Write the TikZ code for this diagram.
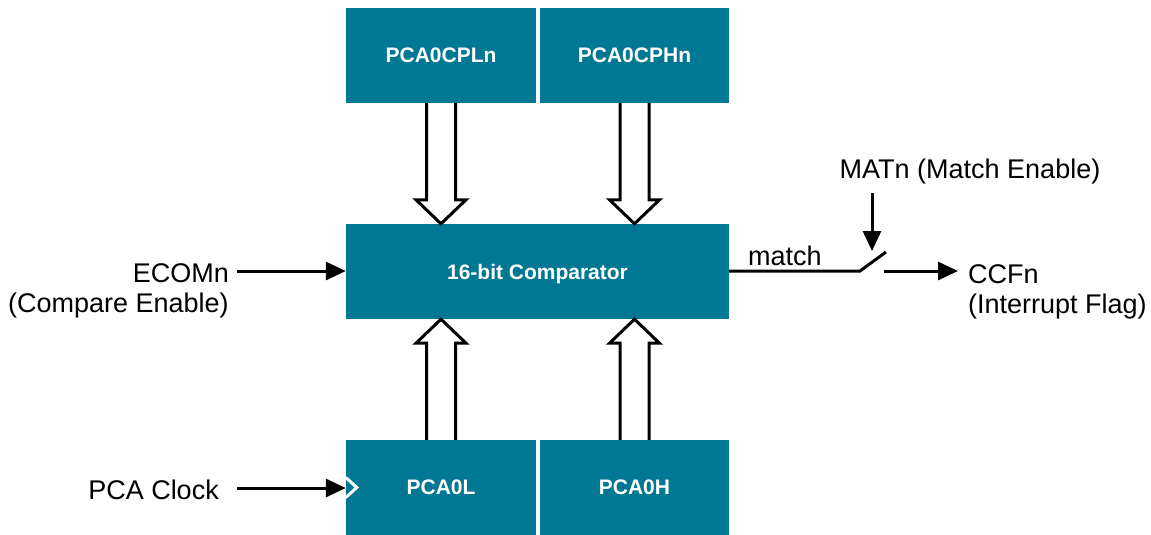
\documentclass[tikz,border=0pt]{standalone}
\usepackage{fontspec}
\setmainfont{Liberation Sans}
\usetikzlibrary{arrows.meta,calc}
\definecolor{teal}{RGB}{0,120,148}
\tikzset{
  regbox/.style={fill=teal, draw=none, minimum width=190pt, minimum height=95pt, inner sep=0pt,
    text=white, font=\fontsize{21}{24}\selectfont\bfseries, text depth=0pt},
  lbl/.style={inner sep=0pt, font=\fontsize{27}{32}\selectfont},
  sig/.style={line width=3pt, -{Triangle[length=20pt,width=18pt]}},
  wire/.style={line width=3pt},
  blk/.style={line width=3pt, line join=miter, fill=white},
}
\newcommand\blkarrow[2]{%
  \draw[blk] let \p1=#1, \p2=#2, \n1={sign(\y2-\y1)} in
    (\x1-14.5pt,\y1) -- (\x1-14.5pt,\y2-24pt*\n1) -- (\x1-25pt,\y2-24pt*\n1) -- (\x1,\y2)
    -- (\x1+25pt,\y2-24pt*\n1) -- (\x1+14.5pt,\y2-24pt*\n1) -- (\x1+14.5pt,\y1);}
\begin{document}
\begin{tikzpicture}[x=1pt,y=-1pt]
\useasboundingbox (0,0) rectangle (1151,535);
% registers
\node[regbox] (cpl) at (441,55.5) {PCA0CPLn};
\node[regbox, minimum width=189pt] (cph) at (634.5,55.5) {PCA0CPHn};
\node[regbox, minimum width=383pt] (cmp) at (537.5,271.5) {16-bit Comparator};
\node[regbox] (pl) at (441,487.5) {PCA0L};
\node[regbox, minimum width=189pt] (ph) at (634.5,487.5) {PCA0H};
% block arrows
\blkarrow{(cpl.south)}{(cpl.south |- cmp.north)}
\blkarrow{(cph.south)}{(cph.south |- cmp.north)}
\blkarrow{(pl.north)}{(pl.north |- cmp.south)}
\blkarrow{(ph.north)}{(ph.north |- cmp.south)}
% clock marker
\draw[white, line width=3pt, line join=miter] ($(pl.west)+(0,-10)$) -- ($(pl.west)+(11,0)$) -- ($(pl.west)+(0,10)$);
% left inputs
\node[lbl, anchor=east] (ecom) at (229,273) {ECOMn};
\node[lbl, anchor=east] (ecom2) at (229,306) {(Compare Enable)};
\draw[sig] (ecom.east) ++(8,-2) coordinate (ecs) -- (ecs -| cmp.west);
\node[lbl, anchor=east] (clk) at (219,490) {PCA Clock};
\draw[sig] (clk.east) ++(18,-2) coordinate (cks) -- (cks -| pl.west);
% match output and switch
\node[lbl, anchor=west] (match) at (748,256) {match};
\coordinate (sw1) at (860,271);
\coordinate (sw2) at (886,252);
\coordinate (swo) at (884,271);
\draw[wire] (cmp.east |- sw1) -- (sw1) -- (sw2);
\node[lbl] (mat) at (970,172) {MATn (Match Enable)};
\coordinate (mats) at (872,193);
\draw[sig] (mats) -- (872,251);
\node[lbl, anchor=west] (ccf) at (968,274) {CCFn};
\node[lbl, anchor=west] (ccf2) at (968,307) {(Interrupt Flag)};
\draw[sig] (swo) -- (swo -| {$(ccf.west)+(-10,0)$});
\end{tikzpicture}
\end{document}
